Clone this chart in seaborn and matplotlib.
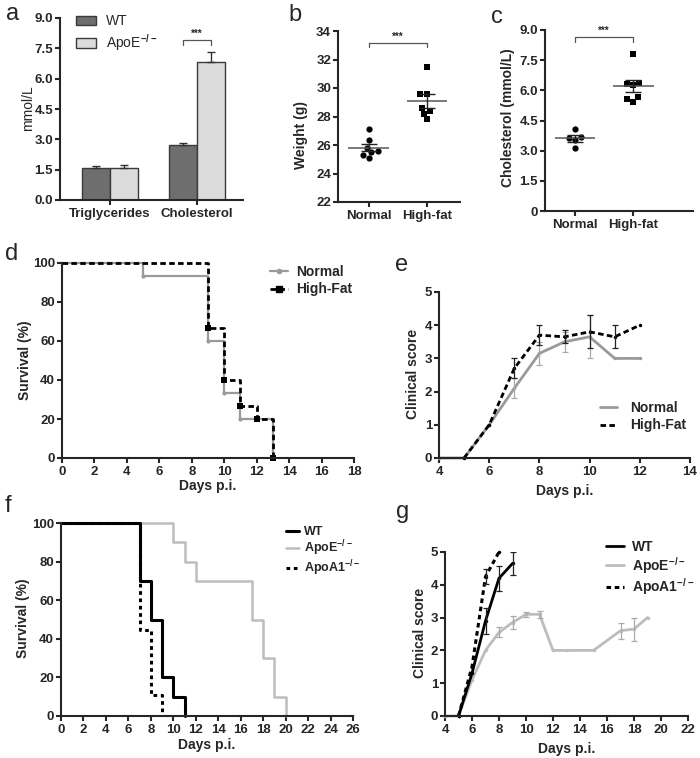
import numpy as np
import pandas as pd
import seaborn as sns
import matplotlib.pyplot as plt
from matplotlib.patches import Patch
from matplotlib.lines import Line2D

# ---- data ----
# a: plasma lipids
lipid_cats = ['Triglycerides', 'Cholesterol']
wt_lipid = [1.58, 2.73]
wt_lipid_err = [0.12, 0.10]
apoe_lipid = [1.60, 6.84]
apoe_lipid_err = [0.15, 0.50]

# b / c: diet groups
diet_cats = ['Normal', 'High-fat']
weight_normal = [27.1, 26.33, 25.8, 25.5, 25.3, 25.6, 25.1]
weight_highfat = [31.45, 29.55, 29.55, 28.6, 28.4, 28.2, 27.8]
chol_normal = [4.06, 3.69, 3.64, 3.53, 3.11]
chol_highfat = [7.81, 6.30, 6.25, 6.38, 5.65, 5.57, 5.43]

# d: survival, diet
surv_d_normal_days = [0, 5, 9, 10, 11, 13]
surv_d_normal = [100, 93.3, 60, 33.3, 20, 0]
surv_d_hf_days = [0, 9, 10, 11, 12, 13]
surv_d_hf = [100, 66.7, 40, 26.7, 20, 0]

# e: clinical score, diet
score_e_normal_days = [4, 5, 6, 7, 8, 9, 10, 11, 12]
score_e_normal = [0, 0, 1.0, 2.1, 3.15, 3.5, 3.65, 3.0, 3.0]
score_e_normal_err = [0, 0, 0, 0.3, 0.35, 0.3, 0.65, 0, 0]
score_e_hf_days = [5, 6, 7, 8, 9, 10, 11, 12]
score_e_hf = [0, 1.0, 2.7, 3.7, 3.65, 3.8, 3.65, 4.0]
score_e_hf_err = [0, 0, 0.3, 0.3, 0.2, 0.5, 0.35, 0]

# f: survival, genotypes
surv_f_wt_days = [0, 7, 8, 9, 10, 11]
surv_f_wt = [100, 70, 50, 20, 10, 0]
surv_f_apoe_days = [0, 10, 11, 12, 17, 18, 19, 20]
surv_f_apoe = [100, 90, 80, 70, 50, 30, 10, 0]
surv_f_apoa1_days = [0, 7, 8, 9]
surv_f_apoa1 = [100, 44.4, 11.1, 0]

# g: clinical score, genotypes
score_g_wt_days = [5, 6, 7, 8, 9]
score_g_wt = [0, 1.3, 2.9, 4.2, 4.65]
score_g_wt_err = [0, 0, 0.4, 0.38, 0.35]
score_g_apoe_days = [4, 5, 6, 7, 8, 9, 10, 11, 12, 13, 15, 17, 18, 19]
score_g_apoe = [0, 0, 1.1, 2.0, 2.55, 2.85, 3.1, 3.1, 2.0, 2.0, 2.0, 2.6, 2.65, 3.0]
score_g_apoe_err = [0, 0, 0, 0, 0.15, 0.2, 0.08, 0.1, 0, 0, 0, 0.25, 0.35, 0]
score_g_apoa1_days = [5, 6, 7, 8]
score_g_apoa1 = [0, 1.5, 4.25, 5.0]
score_g_apoa1_err = [0, 0, 0.23, 0]

# ---- style ----
sns.set_style('ticks')
plt.rcParams['font.family'] = ['Liberation Sans', 'DejaVu Sans']
plt.rcParams.update({
    'font.weight': 'bold',
    'axes.labelweight': 'bold',
    'axes.linewidth': 1.5,
    'xtick.major.width': 1.5,
    'ytick.major.width': 1.5,
    'xtick.major.size': 3.5,
    'ytick.major.size': 3.5,
    'xtick.major.pad': 2,
    'ytick.major.pad': 1.5,
    'xtick.labelsize': 9.5,
    'ytick.labelsize': 9.5,
    'axes.labelsize': 10,
    'mathtext.fontset': 'custom',
    'mathtext.rm': 'Liberation Sans',
    'mathtext.bf': 'Liberation Sans:bold',
})

W, H = 700, 758
fig = plt.figure(figsize=(W / 100, H / 100), dpi=100)

GRAY = '#9a9a9a'
LGRAY = '#bdbdbd'


def place(l, t, r, b):
    ax = fig.add_axes([l / W, 1 - b / H, (r - l) / W, (b - t) / H])
    sns.despine(ax=ax)
    ax.box = (l, t, r, b)
    return ax


def labels(ax, ylab, yright, ymid, xlab=None, xtop=None):
    l, t, r, b = ax.box
    ax.set_ylabel(ylab)
    ax.yaxis.set_label_coords((yright - l) / (r - l), (b - ymid) / (b - t))
    if xlab is not None:
        ax.set_xlabel(xlab)
        ax.xaxis.set_label_coords(0.5, (b - xtop) / (b - t))
    else:
        ax.set_xlabel('')


def bracket(ax, x0, x1, y, drop, ystar):
    ax.plot([x0, x0, x1, x1], [y - drop, y, y, y - drop], color='#555555', lw=0.9, clip_on=False)
    ax.text((x0 + x1) / 2, ystar, '***', ha='center', va='center', fontsize=7, clip_on=False)


# ---- a ----
ax = place(60, 18, 243, 200)
df_a = pd.DataFrame({'cat': lipid_cats * 2,
                     'geno': ['WT'] * 2 + ['ApoE'] * 2,
                     'val': wt_lipid + apoe_lipid})
sns.barplot(data=df_a, x='cat', y='val', hue='geno', palette=['#6e6e6e', '#dcdcdc'],
            width=0.64, edgecolor='#3a3a3a', linewidth=1, errorbar=None, legend=False, ax=ax)
xs = np.arange(len(lipid_cats))
for off, vals, errs in [(-0.16, wt_lipid, wt_lipid_err), (0.16, apoe_lipid, apoe_lipid_err)]:
    ax.errorbar(xs + off, vals, yerr=[np.zeros(len(errs)), errs], fmt='none',
                ecolor='#333333', elinewidth=1, capsize=3, capthick=1)
ax.set_ylim(0, 9)
ax.set_xlim(-0.575, 1.53)
ax.set_yticks(np.arange(0, 9.1, 1.5))
ax.set_yticklabels([f'{v:.1f}' for v in np.arange(0, 9.1, 1.5)])
labels(ax, 'mmol/L', 35, 108)
ax.yaxis.label.set_fontweight('normal')
bracket(ax, 0.84, 1.16, 7.9, 0.25, 8.2)
ax.legend(handles=[Patch(facecolor='#6e6e6e', edgecolor='#3a3a3a', label='WT'),
                   Patch(facecolor='#dcdcdc', edgecolor='#3a3a3a', label='ApoE$^{-/-}$')],
          loc='upper left', bbox_to_anchor=(0.09, 1.02), frameon=False, borderpad=0,
          borderaxespad=0, handlelength=1.4, handleheight=0.7, handletextpad=0.7,
          labelspacing=0.3, prop={'size': 10, 'weight': 'normal'})


# ---- b / c ----
def dotplot(ax, normal, highfat):
    sns.swarmplot(x=['Normal'] * len(normal), y=normal, order=diet_cats, color='black',
                  marker='o', size=4.5, ax=ax)
    sns.swarmplot(x=['High-fat'] * len(highfat), y=highfat, order=diet_cats, color='black',
                  marker='s', size=4.5, ax=ax)
    for i, vals in enumerate([normal, highfat]):
        m = np.mean(vals)
        sem = np.std(vals, ddof=1) / np.sqrt(len(vals))
        ax.hlines(m, i - 0.35, i + 0.35, color='#555555', lw=1.1, zorder=3)
        ax.errorbar(i, m, yerr=sem, fmt='none', ecolor='#222222', elinewidth=1,
                    capsize=6, capthick=1, zorder=3)


ax = place(338, 31, 460, 202)
dotplot(ax, weight_normal, weight_highfat)
ax.set_ylim(22, 34)
ax.set_xlim(-0.53, 1.57)
ax.set_yticks(range(22, 35, 2))
labels(ax, 'Weight (g)', 308, 135)
bracket(ax, 0, 1, 33.18, 0.3, 33.6)

ax = place(545, 30, 693, 211)
dotplot(ax, chol_normal, chol_highfat)
ax.set_ylim(0, 9)
ax.set_xlim(-0.52, 2.03)
ax.set_yticks(np.arange(0, 9.1, 1.5))
ax.set_yticklabels(['0'] + [f'{v:.1f}' for v in np.arange(1.5, 9.1, 1.5)])
labels(ax, 'Cholesterol (mmol/L)', 515, 118)
bracket(ax, 0, 1, 8.67, 0.25, 8.95)

# ---- d ----
ax = place(62, 263, 354, 458)
sns.lineplot(x=surv_d_normal_days, y=surv_d_normal, drawstyle='steps-post', color=GRAY,
             lw=1.6, marker='o', markersize=3, markeredgewidth=0,
             markevery=list(range(1, len(surv_d_normal))), estimator=None, ax=ax, clip_on=False)
sns.lineplot(x=surv_d_hf_days, y=surv_d_hf, drawstyle='steps-post', color='black',
             lw=2, linestyle=(0, (2, 1.2)), marker='s', markersize=4, markeredgewidth=0,
             markevery=list(range(1, len(surv_d_hf))), estimator=None, ax=ax, clip_on=False)
ax.set_xlim(0, 18)
ax.set_ylim(0, 100)
ax.set_xticks(range(0, 19, 2))
ax.set_yticks(range(0, 101, 20))
labels(ax, 'Survival (%)', 32, 360, 'Days p.i.', 479)
ax.legend(handles=[Line2D([], [], color=GRAY, lw=1.6, marker='o', markersize=3, label='Normal'),
                   Line2D([], [], color='black', lw=2, ls=(0, (2, 1.2)), marker='s',
                          markersize=4, label='High-Fat')],
          loc='upper left', bbox_to_anchor=((270 - 62) / 292, (458 - 265) / 195),
          frameon=False, borderpad=0, borderaxespad=0, handlelength=1.3,
          handletextpad=0.6, labelspacing=0.25, prop={'size': 10, 'weight': 'bold'})


# ---- e / g line plots ----
def scoreline(ax, days, vals, errs, color, ls, lw, ecolor):
    sns.lineplot(x=days, y=vals, color=color, lw=lw, linestyle=ls, marker='o', markersize=2.5,
                 markeredgewidth=0, estimator=None, ax=ax, clip_on=False)
    d = np.array(days, float)
    v = np.array(vals, float)
    e = np.array(errs, float)
    k = e > 0
    ax.errorbar(d[k], v[k], yerr=e[k], fmt='none', ecolor=ecolor, elinewidth=0.9,
                capsize=2, capthick=0.9)


ax = place(439, 292, 690, 458)
scoreline(ax, score_e_normal_days, score_e_normal, score_e_normal_err, GRAY, '-', 2, '#aaaaaa')
scoreline(ax, score_e_hf_days, score_e_hf, score_e_hf_err, 'black', (0, (2, 1.2)), 2, '#222222')
ax.set_xlim(4, 14)
ax.set_ylim(0, 5)
ax.set_xticks(range(4, 15, 2))
ax.set_yticks(range(0, 6))
labels(ax, 'Clinical score', 420, 374, 'Days p.i.', 484)
ax.legend(handles=[Line2D([], [], color=GRAY, lw=2, label='Normal'),
                   Line2D([], [], color='black', lw=2, ls=(0, (2, 1.2)), label='High-Fat')],
          loc='upper left', bbox_to_anchor=((600 - 439) / 251, (458 - 401) / 166),
          frameon=False, borderpad=0, borderaxespad=0, handlelength=1.2,
          handletextpad=1.0, labelspacing=0.25, prop={'size': 10, 'weight': 'bold'})

# ---- f ----
ax = place(61, 523, 353, 716)
sns.lineplot(x=surv_f_apoe_days, y=surv_f_apoe, drawstyle='steps-post', color=LGRAY, lw=1.8,
             estimator=None, ax=ax, clip_on=False)
sns.lineplot(x=surv_f_wt_days, y=surv_f_wt, drawstyle='steps-post', color='black', lw=2.2,
             estimator=None, ax=ax, clip_on=False)
sns.lineplot(x=surv_f_apoa1_days, y=surv_f_apoa1, drawstyle='steps-post', color='black', lw=2.2,
             linestyle=(0, (1.2, 1.2)), estimator=None, ax=ax, clip_on=False)
ax.set_xlim(0, 26)
ax.set_ylim(0, 100)
ax.set_xticks(range(0, 27, 2))
ax.set_yticks(range(0, 101, 20))
labels(ax, 'Survival (%)', 30, 618, 'Days p.i.', 738)
ax.legend(handles=[Line2D([], [], color='black', lw=2.2, label='WT'),
                   Line2D([], [], color=LGRAY, lw=1.8, label='ApoE$^{-/-}$'),
                   Line2D([], [], color='black', lw=2.2, ls=(0, (1.2, 1.2)), label='ApoA1$^{-/-}$')],
          loc='upper left', bbox_to_anchor=((286 - 61) / 292, (716 - 526) / 193),
          frameon=False, borderpad=0, borderaxespad=0, handlelength=1.0,
          handletextpad=0.4, labelspacing=0.05, prop={'size': 9, 'weight': 'bold'})

# ---- g ----
ax = place(445, 552, 688, 716)
scoreline(ax, score_g_apoe_days, score_g_apoe, score_g_apoe_err, LGRAY, '-', 2, '#aaaaaa')
scoreline(ax, score_g_wt_days, score_g_wt, score_g_wt_err, 'black', '-', 2, '#222222')
scoreline(ax, score_g_apoa1_days, score_g_apoa1, score_g_apoa1_err, 'black', (0, (1.5, 1.2)), 2.2, '#222222')
ax.set_xlim(4, 22)
ax.set_ylim(0, 5)
ax.set_xticks(range(4, 23, 2))
ax.set_yticks(range(0, 6))
labels(ax, 'Clinical score', 427, 633, 'Days p.i.', 742)
ax.legend(handles=[Line2D([], [], color='black', lw=2, label='WT'),
                   Line2D([], [], color=LGRAY, lw=2, label='ApoE$^{-/-}$'),
                   Line2D([], [], color='black', lw=2.2, ls=(0, (1.5, 1.2)), label='ApoA1$^{-/-}$')],
          loc='upper left', bbox_to_anchor=((606 - 445) / 243, (716 - 540) / 164),
          frameon=False, borderpad=0, borderaxespad=0, handlelength=1.3,
          handletextpad=0.6, labelspacing=0.05, prop={'size': 10, 'weight': 'bold'})

# ---- panel letters ----
for letter, x, y in [('a', 13, 14), ('b', 295, 15), ('c', 497, 17), ('d', 12, 254),
                     ('e', 402, 265), ('f', 8, 506), ('g', 403, 512)]:
    fig.text(x / W, 1 - y / H, letter, ha='center', va='center', fontsize=17, fontweight='normal')

fig.savefig('out.png', dpi=100)
